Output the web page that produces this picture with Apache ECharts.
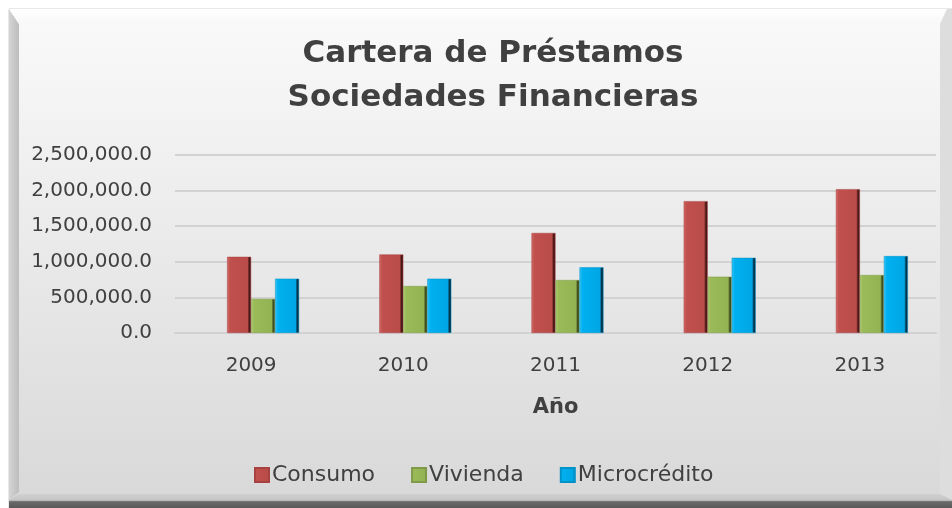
<!DOCTYPE html>
<html>
<head>
<meta charset="utf-8">
<script src="https://cdn.jsdelivr.net/npm/echarts@6/dist/echarts.min.js"></script>
<style>
  html, body { margin: 0; padding: 0; background: #fff; }
  #chart { width: 952px; height: 508px; }
</style>
</head>
<body>
<div id="chart"></div>
<script>
// datos
var years = ['2009', '2010', '2011', '2012', '2013'];
var consumo = [1070000, 1103000, 1405000, 1852000, 2020000];
var vivienda = [479000, 660000, 744000, 791000, 814000];
var microcredito = [763000, 763000, 922000, 1056000, 1080000];
var seriesNames = ['Consumo', 'Vivienda', 'Microcrédito'];

var FONT = 'DejaVu Sans';
var G = echarts.graphic.LinearGradient;

// barra con efecto bisel (borde claro a la izq., oscuro a la der.)
function bevel(light, base, mid, dark) {
	return new G(0, 0, 1, 0, [
		{offset: 0, color: light},
		{offset: 0.12, color: base},
		{offset: 0.85, color: mid},
		{offset: 0.92, color: dark},
		{offset: 1, color: dark}
	]);
}

function fmt(v) {
	return v.toLocaleString('en-US', {minimumFractionDigits: 1, maximumFractionDigits: 1});
}

var myChart = echarts.init(document.getElementById('chart'));

var option = {
	animation: false,
	graphic: [
		// marco
		{type: 'rect', z: -10, shape: {x: 9, y: 9, width: 943, height: 499},
			style: {fill: new G(0, 0, 0, 1, [{offset: 0, color: '#fafafa'}, {offset: 1, color: '#d8d8d8'}]), stroke: '#d0d0d0', lineWidth: 1}},
		{type: 'polygon', z: -9, shape: {points: [[9, 9], [19, 24], [19, 492], [9, 500]]},
			style: {fill: new G(0, 0, 1, 0, [{offset: 0, color: '#d4d4d4'}, {offset: 1, color: '#bdbdbd'}])}},
		{type: 'polygon', z: -9, shape: {points: [[9, 9], [947, 9], [940, 24], [19, 24]]},
			style: {fill: new G(0, 0, 0, 1, [{offset: 0, color: '#ffffff'}, {offset: 1, color: '#f8f8f8'}])}},
		{type: 'polygon', z: -9, shape: {points: [[940, 24], [947, 9], [952, 9], [952, 500], [940, 494]]},
			style: {fill: '#dddddd'}},
		{type: 'polygon', z: -9, shape: {points: [[9, 500], [19, 494], [940, 494], [952, 500], [952, 508], [9, 508]]},
			style: {fill: new G(0, 0, 0, 1, [{offset: 0, color: '#d0d0d0'}, {offset: 0.45, color: '#c4c4c4'}, {offset: 0.55, color: '#6a6a6a'}, {offset: 1, color: '#5a5a5a'}])}}
	],
	title: {
		text: 'Cartera de Préstamos\nSociedades Financieras',
		left: 488,
		top: 27,
		textAlign: 'center',
		textStyle: {fontFamily: FONT, fontSize: 31, fontWeight: 'bold', color: '#404040', lineHeight: 44}
	},
	legend: {
		data: seriesNames,
		left: 249,
		top: 459,
		icon: 'rect',
		itemWidth: 14,
		itemHeight: 14,
		itemGap: 36,
		textStyle: {fontFamily: FONT, fontSize: 22, color: '#404040', padding: [0, 0, 0, -2]}
	},
	grid: [
		{left: 175, right: 16, top: 155, bottom: 175},
		{left: 187, right: 4, top: 155, bottom: 175}
	],
	xAxis: [
		{
			gridIndex: 0, type: 'category', data: years,
			name: 'Año', nameLocation: 'middle', nameGap: 64,
			nameTextStyle: {fontFamily: FONT, fontSize: 21, fontWeight: 'bold', color: '#404040'},
			axisLine: {lineStyle: {color: '#d2d2d2', width: 2}},
			axisTick: {show: false},
			axisLabel: {fontFamily: FONT, fontSize: 20, color: '#404040', margin: 23}
		},
		{gridIndex: 1, type: 'category', data: years, show: false}
	],
	yAxis: [
		{
			gridIndex: 0, type: 'value', min: 0, max: 2500000, interval: 500000,
			axisLine: {show: false}, axisTick: {show: false},
			splitLine: {lineStyle: {color: '#d2d2d2', width: 2}},
			axisLabel: {fontFamily: FONT, fontSize: 20, color: '#404040', margin: 23, formatter: fmt}
		},
		{gridIndex: 1, type: 'value', min: 0, max: 2500000, interval: 500000, show: false}
	],
	series: [
		{
			name: seriesNames[0], type: 'bar', xAxisIndex: 1, yAxisIndex: 1,
			barWidth: 24, barGap: '0%', data: consumo,
			itemStyle: {color: bevel('#d26d69', '#c0504d', '#b94b48', '#4a1817'), borderColor: '#a84240', borderWidth: 0.5}
		},
		{
			name: seriesNames[1], type: 'bar', xAxisIndex: 1, yAxisIndex: 1,
			barWidth: 24, barGap: '0%', data: vivienda,
			itemStyle: {color: bevel('#b0cc74', '#9bbb59', '#93b253', '#3f4f1f'), borderColor: '#7f9a48', borderWidth: 0.5}
		},
		{
			name: seriesNames[2], type: 'bar', xAxisIndex: 1, yAxisIndex: 1,
			barWidth: 24, barGap: '0%', data: microcredito,
			itemStyle: {color: bevel('#3cc6f6', '#00b0f0', '#00a6e4', '#06344a'), borderColor: '#0092c8', borderWidth: 0.5}
		}
	]
};

myChart.setOption(option);
</script>
</body>
</html>
